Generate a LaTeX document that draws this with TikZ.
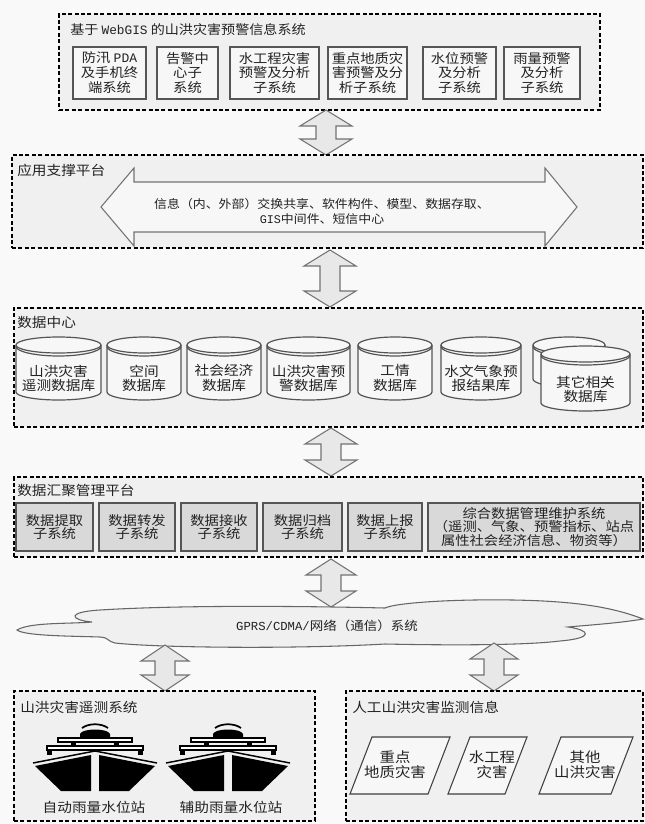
\documentclass[tikz,border=0pt]{standalone}
\usepackage{fontspec}
\setmainfont{Noto Sans CJK SC}[FakeStretch=1.1]
\newfontfamily\lat{Liberation Mono}
\usetikzlibrary{calc}
\newlength\px \setlength\px{0.75pt}
\definecolor{bgc}{HTML}{F9F9F9}
\definecolor{grpc}{HTML}{F0F0F0}
\definecolor{boxc}{HTML}{F7F7F7}
\definecolor{subc}{HTML}{D9D9D9}
\definecolor{arrc}{HTML}{E8E8E8}
\definecolor{txtc}{HTML}{222222}
\definecolor{edgec}{HTML}{555555}

\tikzset{
  group/.style={draw=black, fill=grpc, line width=1.6pt, dash pattern=on 3pt off 1.8pt, inner sep=0pt},
  grouptitle/.style={anchor=west, inner sep=0pt, text=txtc, font=\fontsize{10}{12}\selectfont},
  sysbox/.style={draw=edgec, fill=boxc, line width=1.1pt, inner sep=0pt, align=center, text=txtc,
     font=\fontsize{9.75}{11.2}\selectfont},
  subbox/.style={draw=edgec, fill=subc, line width=1.1pt, inner sep=0pt, align=center, text=txtc,
     font=\fontsize{9.75}{10.4}\selectfont},
  cylline/.style={draw=edgec, line width=0.9pt},
  cyltext/.style={inner sep=0pt, align=center, text=txtc, font=\fontsize{10}{10.6}\selectfont},
  blockarrow/.style={draw=black!55, fill=arrc, line width=0.8pt, line join=miter},
  bigarrow/.style={draw=black!55, fill=boxc, line width=0.8pt},
  para/.style={draw=black!75, fill=boxc, line width=0.8pt},
  plain/.style={inner sep=0pt, align=center, text=txtc, font=\fontsize{10}{11.5}\selectfont},
}

% database cylinder: name, x1, y1, x2, y2, label
\newcommand\dbcyl[6]{%
  \pgfmathsetmacro\cxa{(#2+#4)/2}%
  \pgfmathsetmacro\rxa{(#4-#2)/2}%
  \pgfmathsetmacro\ya{#3+8}%
  \pgfmathsetmacro\yb{#5-8}%
  \fill[boxc] (#2,\ya) -- (#2,\yb)
     .. controls (#2,{\yb+4.4}) and ({\cxa-0.5523*\rxa},#5) .. (\cxa,#5)
     .. controls ({\cxa+0.5523*\rxa},#5) and (#4,{\yb+4.4}) .. (#4,\yb)
     -- (#4,\ya) -- cycle;
  \draw[cylline] (#2,\ya) -- (#2,\yb)
     .. controls (#2,{\yb+4.4}) and ({\cxa-0.5523*\rxa},#5) .. (\cxa,#5)
     .. controls ({\cxa+0.5523*\rxa},#5) and (#4,{\yb+4.4}) .. (#4,\yb)
     -- (#4,\ya);
  \draw[cylline, fill=boxc] (\cxa,\ya) ellipse [x radius=\rxa, y radius=8];
  \draw[cylline] (#2,{\ya+1.5})
     .. controls (#2,{\ya+6.5}) and ({\cxa-0.5523*\rxa},{\ya+11}) .. (\cxa,{\ya+11})
     .. controls ({\cxa+0.5523*\rxa},{\ya+11}) and (#4,{\ya+6.5}) .. (#4,{\ya+1.5});
  \node[cyltext] (#1) at (\cxa,{#5-22}) {#6};
}

% vertical two-headed block arrow: centre x, top tip, bottom tip, head half-width
\newcommand\vbiarrow[4]{%
  \draw[blockarrow] (#1,#2) -- ({#1+#4},{#2+16}) -- ({#1+10},{#2+16}) -- ({#1+10},{#3-16})
    -- ({#1+#4},{#3-16}) -- (#1,#3) -- ({#1-#4},{#3-16}) -- ({#1-10},{#3-16})
    -- ({#1-10},{#2+16}) -- ({#1-#4},{#2+16}) -- cycle;
}

% gauging station icon, centred at x, top at y
\newcommand\station[2]{%
  \begin{scope}[shift={(#1,#2)}]
    \draw[line width=1.3pt] (-13,7) .. controls (-6,2) and (6,2) .. (13,7);
    \fill (-15,17) -- (-15,13) .. controls (-13,7) and (13,7) .. (15,13) -- (15,17) -- cycle;
    \draw[line width=1.1pt, fill=white] (-37,17) rectangle (37,21);
    \fill (-24,21) rectangle (-19,25);
    \fill (19,21) rectangle (24,25);
    \draw[line width=1.1pt, fill=white] (-48,25) rectangle (48,29);
    \fill (-48,29) rectangle (-43,34);
    \fill (43,29) rectangle (48,34);
    \draw[line width=1.1pt] (-62,42) -- (0,30) -- (62,42);
    \fill (-60,45) -- (-4,34) -- (-4,70) -- (-34,70) -- cycle;
    \fill (4,34) -- (60,45) -- (34,70) -- (4,70) -- cycle;
  \end{scope}
}

\begin{document}
\begin{tikzpicture}[x=0.75pt,y=-0.75pt]
  \fill[bgc] (0,0) rectangle (645,824);
  \useasboundingbox (0,0) rectangle (645,824);

  % ---- WebGIS early-warning system ----
  \node[group, minimum width=541\px, minimum height=96\px] (s1) at (329.5,62) {};
  \node[grouptitle, font=\fontsize{9.6}{11}\selectfont] (s1t) at (70,30) {基于 {\lat WebGIS} 的山洪灾害预警信息系统};
  \node[sysbox, minimum width=73\px, minimum height=52\px] (t1) at (109.5,73) {防汛 {\lat PDA}\\及手机终\\端系统};
  \node[sysbox, minimum width=61\px, minimum height=52\px] (t2) at (187.5,73) {告警中\\心子\\系统};
  \node[sysbox, minimum width=89\px, minimum height=52\px] (t3) at (274.5,73) {水工程灾害\\预警及分析\\子系统};
  \node[sysbox, minimum width=79\px, minimum height=52\px] (t4) at (367.5,73) {重点地质灾\\害预警及分\\析子系统};
  \node[sysbox, minimum width=73\px, minimum height=52\px] (t5) at (459.5,73) {水位预警\\及分析\\子系统};
  \node[sysbox, minimum width=76\px, minimum height=52\px] (t6) at (542,73) {雨量预警\\及分析\\子系统};

  \vbiarrow{326}{110}{155}{26}

  % ---- application support platform ----
  \node[group, minimum width=631\px, minimum height=93\px] (s2) at (327.5,201.5) {};
  \node[grouptitle] (s2t) at (17,170) {应用支撑平台};
  \draw[bigarrow] (101,207) -- (134,168) -- (134,182) -- (545,182) -- (545,168) -- (577,207)
     -- (545,246) -- (545,232) -- (134,232) -- (134,246) -- cycle;
  \node[plain, font=\fontsize{8.8}{11.2}\selectfont] (share) at (322,211)
     {信息（内、外部）交换共享、软件构件、模型、数据存取、\\{\lat GIS}中间件、短信中心};

  \vbiarrow{330}{250}{307}{26}

  % ---- data centre ----
  \node[group, minimum width=629\px, minimum height=119\px] (s3) at (328.5,367.5) {};
  \node[grouptitle] (s3t) at (17,322) {数据中心};
  \dbcyl{d1}{16}{337}{101}{400}{山洪灾害\\遥测数据库}
  \dbcyl{d2}{107}{337}{181}{400}{空间\\数据库}
  \dbcyl{d3}{187}{337}{261}{400}{社会经济\\数据库}
  \dbcyl{d4}{267}{337}{350}{400}{山洪灾害预\\警数据库}
  \dbcyl{d5}{358}{337}{432}{400}{工情\\数据库}
  \dbcyl{d6}{441}{337}{521}{400}{水文气象预\\报结果库}
  \dbcyl{d7b}{533}{337}{605}{387}{}
  \dbcyl{d7}{541}{346}{630}{411}{其它相关\\数据库}

  \vbiarrow{331}{428}{476}{26}

  % ---- data aggregation platform ----
  \node[group, minimum width=629\px, minimum height=80\px] (s4) at (328.5,517) {};
  \node[grouptitle] (s4t) at (17,490) {数据汇聚管理平台};
  \node[subbox, minimum width=77\px, minimum height=48\px] (g1) at (54.5,527) {数据提取\\子系统};
  \node[subbox, minimum width=76\px, minimum height=48\px] (g2) at (137,527) {数据转发\\子系统};
  \node[subbox, minimum width=76\px, minimum height=48\px] (g3) at (219,527) {数据接收\\子系统};
  \node[subbox, minimum width=79\px, minimum height=48\px] (g4) at (302.5,527) {数据归档\\子系统};
  \node[subbox, minimum width=74\px, minimum height=48\px] (g5) at (385,527) {数据上报\\子系统};
  \node[subbox, minimum width=212\px, minimum height=48\px] (g6) at (534,527)
     {综合数据管理维护系统\\（遥测、气象、预警指标、站点\\属性社会经济信息、物资等）};

  \vbiarrow{331}{559}{607}{25}

  % ---- communication network cloud ----
  \draw[draw=black!60, fill=grpc, line width=0.8pt] (17,630)
     .. controls (30,622) and (70,624) .. (92,622)
     .. controls (70,620) and (66,612) .. (100,610)
     .. controls (180,605) and (300,606) .. (385,608)
     .. controls (395,603) and (450,599) .. (513,600)
     .. controls (570,601) and (610,606) .. (643,619)
     .. controls (620,623) and (590,625) .. (568,627)
     .. controls (590,630) and (595,638) .. (560,641)
     .. controls (520,646) and (430,645) .. (385,644)
     .. controls (300,649) and (160,648) .. (115,643)
     .. controls (105,640) and (110,638) .. (100,637)
     .. controls (70,636) and (25,636) .. (17,630) -- cycle;
  \node[plain, font=\fontsize{9.2}{11}\selectfont] (net) at (327,626) {{\lat GPRS/CDMA/}网络（通信）系统};

  \vbiarrow{165}{645}{691}{24}
  \vbiarrow{494}{643}{691}{24}

  % ---- telemetry system ----
  \node[group, minimum width=301\px, minimum height=130\px] (s5) at (164.5,756) {};
  \node[grouptitle] (s5t) at (20,707) {山洪灾害遥测系统};
  \station{95}{721}
  \station{228}{721}
  \node[plain, font=\fontsize{10}{12}\selectfont] (st1) at (94,807) {自动雨量水位站};
  \node[plain, font=\fontsize{10}{12}\selectfont] (st2) at (231,807) {辅助雨量水位站};

  % ---- manual monitoring information ----
  \node[group, minimum width=297\px, minimum height=130\px] (s6) at (494.5,756) {};
  \node[grouptitle] (s6t) at (352,707) {人工山洪灾害监测信息};
  \draw[para] (350,794) -- (372,737) -- (450,737) -- (428,794) -- cycle;
  \node[plain, font=\fontsize{10.5}{11.5}\selectfont] (m1) at (395,765) {重点\\地质灾害};
  \draw[para] (448,794) -- (470,737) -- (527,737) -- (505,794) -- cycle;
  \node[plain, font=\fontsize{10.5}{11.5}\selectfont] (m2) at (492,765) {水工程\\灾害};
  \draw[para] (539,794) -- (561,737) -- (633,737) -- (611,794) -- cycle;
  \node[plain, font=\fontsize{10.5}{11.5}\selectfont] (m3) at (585,765) {其他\\山洪灾害};
\end{tikzpicture}
\end{document}
